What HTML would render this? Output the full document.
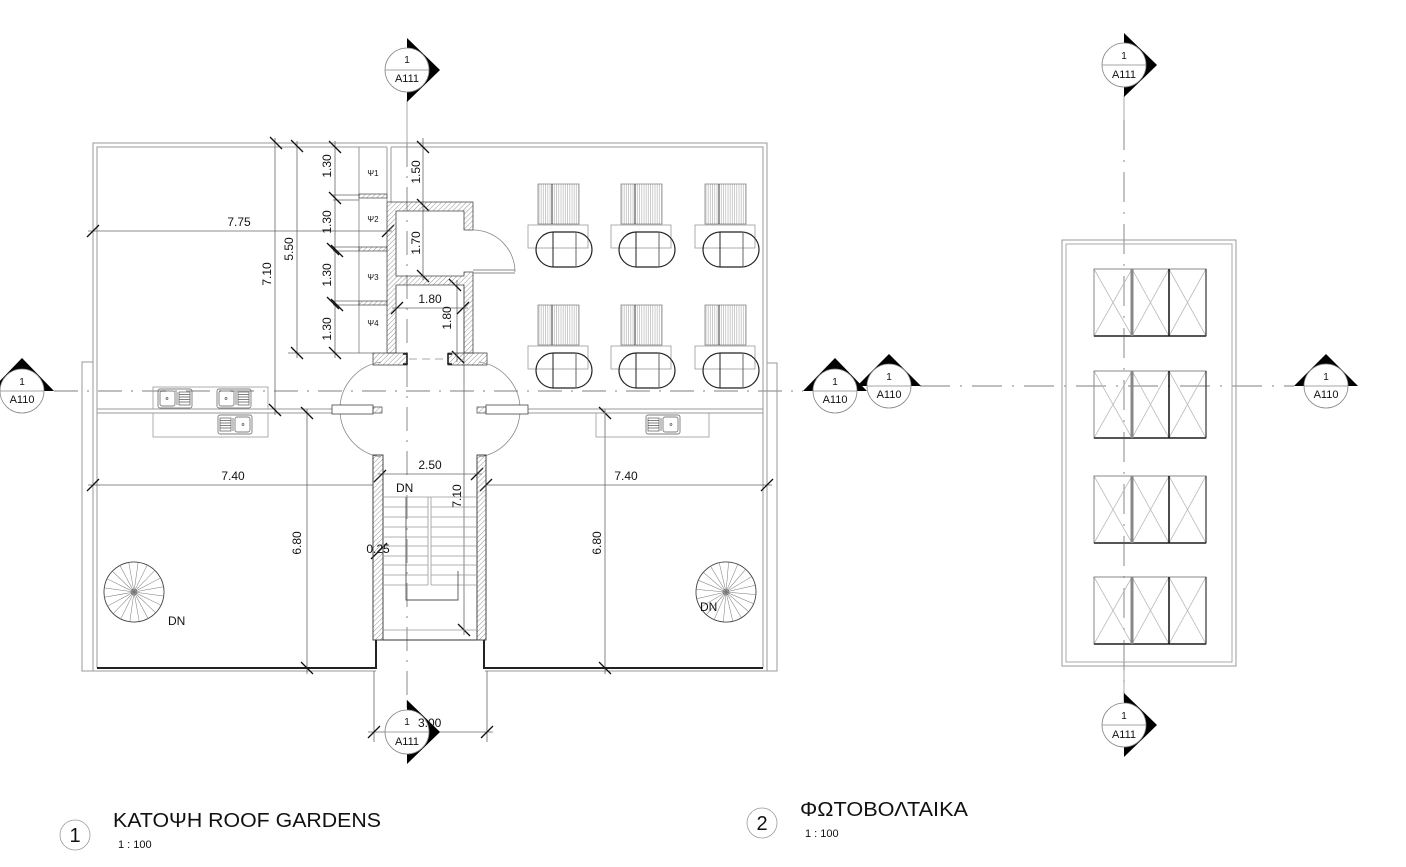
<!DOCTYPE html>
<html><head><meta charset="utf-8"><style>
html,body{margin:0;padding:0;background:#fff;}
svg{display:block;}
text{font-family:"Liberation Sans",Arial,sans-serif;fill:#111;}
</style></head><body>
<svg width="1406" height="867" viewBox="0 0 1406 867" xmlns="http://www.w3.org/2000/svg">
<defs>
<pattern id="h" width="3.5" height="3.5" patternUnits="userSpaceOnUse" patternTransform="rotate(45)"><line x1="0" y1="0" x2="0" y2="3.5" stroke="#666" stroke-width="0.7"/></pattern>
<pattern id="v" width="2.2" height="10" patternUnits="userSpaceOnUse"><line x1="1" y1="0" x2="1" y2="10" stroke="#aaa" stroke-width="0.6"/></pattern>
<g id="tu">
<rect x="0" y="0" width="41" height="40" fill="url(#v)" stroke="#888" stroke-width="0.8"/>
<line x1="14" y1="0" x2="14" y2="40" stroke="#333" stroke-width="1"/>
<rect x="-10" y="41" width="60" height="23" fill="none" stroke="#999" stroke-width="0.8"/>
<rect x="-2" y="48" width="56" height="35" rx="17.5" fill="none" stroke="#222" stroke-width="1.2"/>
<line x1="15" y1="48" x2="15" y2="83" stroke="#222" stroke-width="1"/>
<line x1="38" y1="48" x2="38" y2="83" stroke="#666" stroke-width="1"/>
</g>
<g id="sk" fill="none" stroke="#555" stroke-width="0.7">
<rect x="0" y="0" width="34" height="19" rx="2"/>
<rect x="2" y="2" width="15" height="15" rx="2"/>
<circle cx="9" cy="9.5" r="1"/>
<line x1="19" y1="3" x2="19" y2="16"/>
<rect x="21" y="3" width="11" height="13"/>
<path d="M21,5.5H32M21,8H32M21,10.5H32M21,13H32"/>
</g>
<g id="sp" fill="none" stroke="#777" stroke-width="0.5">
<circle r="30" stroke="#444" stroke-width="0.9"/>
<circle r="3" stroke="#444"/>
<path d="M-30,0L30,0M-28.5,-9.3L28.5,9.3M-24.3,-17.6L24.3,17.6M-17.6,-24.3L17.6,24.3M-9.3,-28.5L9.3,28.5M0,-30L0,30M9.3,-28.5L-9.3,28.5M17.6,-24.3L-17.6,24.3M24.3,-17.6L-24.3,17.6M28.5,-9.3L-28.5,9.3"/>
</g>
<g id="pv" fill="none">
<path d="M0,0L38,67M38,0L0,67M38,0L75,67M75,0L38,67M75,0L112,67M112,0L75,67" stroke="#bbb" stroke-width="0.8"/>
<rect x="0" y="0" width="112" height="67" stroke="#888" stroke-width="1"/>
<line x1="0" y1="67" x2="112" y2="67" stroke="#555" stroke-width="2"/>
<line x1="38" y1="0" x2="38" y2="67" stroke="#888" stroke-width="3"/>
<line x1="75" y1="0" x2="75" y2="67" stroke="#111" stroke-width="1.5"/>
<line x1="112" y1="0" x2="112" y2="67" stroke="#333" stroke-width="1.2"/>
</g>
</defs>

<!-- section / center lines -->
<g stroke="#aaa" stroke-width="1.4" fill="none">
<path d="M54,391H803" stroke-dasharray="24 9 2 9"/>
<path d="M920,386H1294" stroke-dasharray="30 10 2 10"/>
<path d="M407,143V700" stroke-dasharray="24 9 2 9"/>
<path d="M1124,120V700" stroke-dasharray="30 10 2 10"/>
</g>
<g stroke="#aaa" stroke-width="1">
<line x1="407" y1="100" x2="407" y2="143"/>
<line x1="1124" y1="95" x2="1124" y2="120"/>
<line x1="1124" y1="666" x2="1124" y2="702"/>
<line x1="407" y1="700" x2="407" y2="708"/>
</g>

<!-- building outline -->
<g fill="none" stroke="#999" stroke-width="1">
<path d="M93,671V143H767V668"/>
<path d="M97,668V147H387M391,147H763V668"/>
<line x1="387" y1="147" x2="387" y2="202"/>
<line x1="391" y1="147" x2="391" y2="202"/>
<rect x="82" y="362" width="11" height="309"/>
<rect x="767" y="363" width="10" height="308"/>
<line x1="82" y1="671" x2="376" y2="671"/>
<line x1="485" y1="671" x2="777" y2="671"/>
<path d="M97,409H332M97,413H332M528,409H763M528,413H763"/>
<line x1="359" y1="147" x2="359" y2="353"/>
</g>
<g fill="none" stroke="#222" stroke-width="2">
<path d="M97,668H376V640"/>
<path d="M484,640V668H763"/>
</g>

<!-- dimension lines -->
<g stroke="#666" stroke-width="0.8" fill="none">
<line x1="275" y1="138" x2="275" y2="415"/>
<line x1="297" y1="141" x2="297" y2="358"/>
<line x1="335" y1="141" x2="335" y2="358"/>
<line x1="288" y1="353" x2="373" y2="353"/>
<line x1="423" y1="138" x2="423" y2="280"/>
<line x1="457" y1="280" x2="457" y2="362"/>
<line x1="464" y1="285" x2="464" y2="635"/>
<line x1="88" y1="231" x2="392" y2="231"/>
<line x1="392" y1="308" x2="468" y2="308"/>
<line x1="378" y1="474" x2="482" y2="474"/>
<path d="M88,485H373M486,485H772"/>
<line x1="307" y1="409" x2="307" y2="674"/>
<line x1="605" y1="409" x2="605" y2="674"/>
<line x1="374" y1="671" x2="374" y2="742"/>
<line x1="487" y1="671" x2="487" y2="742"/>
<line x1="368" y1="732" x2="493" y2="732"/>
<path d="M333,195H359M333,200H359M333,247H359M333,251H359M333,301H359M333,305H359"/>
</g>

<!-- ticks -->
<g stroke="#111" stroke-width="1.3">
<path d="M270,137l12,12M291,140l12,12M329,141l12,12M417,141l12,12
M269,404l12,12M291,347l12,12M329,347l12,12M329,192l12,12M327,243l12,12M331,245l12,12M327,297l12,12M331,299l12,12
M417,199l12,12M417,270l12,12M449,279l12,12M452,351l12,12M458,624l12,12
M301,407l12,12M301,662l12,12M599,407l12,12M599,662l12,12"/>
<path d="M87,237l12,-12M382,237l12,-12M391,314l12,-12M457,314l12,-12
M374,482l12,-12M471,480l12,-12M87,491l12,-12M480,491l12,-12M761,491l12,-12
M371,559l12,-12M375,555l12,-12M368,738l12,-12M481,738l12,-12"/>
</g>

<!-- counters & sinks -->
<g fill="none" stroke="#999" stroke-width="0.8">
<rect x="153" y="387" width="115" height="22"/>
<rect x="153" y="413" width="115" height="24"/>
<rect x="596" y="413" width="113" height="24"/>
</g>
<use href="#sk" transform="translate(158,389)"/>
<use href="#sk" transform="translate(217,389)"/>
<use href="#sk" transform="translate(252,415) scale(-1,1)"/>
<use href="#sk" transform="translate(680,415) scale(-1,1)"/>

<!-- elevator / storage walls -->
<path d="M387,202H473V230H464V211H396V276H464V272H473V353H464V285H396V353H387Z" fill="url(#h)" stroke="#444" stroke-width="0.8"/>
<rect x="373" y="353" width="34" height="12" fill="url(#h)" stroke="#444" stroke-width="0.8"/>
<rect x="448" y="353" width="39" height="12" fill="url(#h)" stroke="#444" stroke-width="0.8"/>
<path d="M403,354H407V364H403M452,354H448V364H452" fill="none" stroke="#111" stroke-width="1.5"/>
<line x1="409" y1="359" x2="446" y2="359" stroke="#aaa" stroke-width="1" stroke-dasharray="8 5"/>
<rect x="359" y="194" width="28" height="4" fill="url(#h)" stroke="#444" stroke-width="0.7"/>
<rect x="359" y="247" width="28" height="4" fill="url(#h)" stroke="#444" stroke-width="0.7"/>
<rect x="359" y="301" width="28" height="4" fill="url(#h)" stroke="#444" stroke-width="0.7"/>
<path d="M515,272A42,42 0 0 0 473,230" fill="none" stroke="#888" stroke-width="0.8"/>
<path d="M473,270H515M473,273H515" fill="none" stroke="#888" stroke-width="0.9"/>

<!-- lobby door swings -->
<g fill="none" stroke="#888" stroke-width="0.8">
<path d="M381,362A48,48 0 0 0 381,457"/>
<path d="M479,362A48,48 0 0 1 479,457"/>
</g>
<rect x="332" y="405" width="41" height="9" fill="#fff" stroke="#444" stroke-width="0.8"/>
<rect x="373" y="407" width="9" height="6" fill="url(#h)" stroke="#444" stroke-width="0.7"/>
<rect x="486" y="405" width="42" height="9" fill="#fff" stroke="#444" stroke-width="0.8"/>
<rect x="477" y="407" width="9" height="6" fill="url(#h)" stroke="#444" stroke-width="0.7"/>

<!-- stair -->
<rect x="373" y="455" width="10" height="185" fill="url(#h)" stroke="#333" stroke-width="0.9"/>
<rect x="477" y="455" width="9" height="185" fill="url(#h)" stroke="#333" stroke-width="0.9"/>
<g stroke="#999" stroke-width="0.8" fill="none">
<path d="M383,497H477M383,507H428M383,517H428M383,527H428M383,537H428M383,546H428M383,556H428M383,565H428M383,575H428M383,585H428
M431,507H477M431,517H477M431,527H477M431,537H477M431,546H477M431,556H477M431,565H477M431,575H477M431,585H477"/>
<path d="M428,497V585M431,497V585"/>
<path d="M383,630H477"/>
</g>
<path d="M383,640H477" stroke="#333" stroke-width="1"/>
<path d="M406,497V600H458V571" fill="none" stroke="#555" stroke-width="0.9"/>

<!-- tables -->
<use href="#tu" x="538" y="184"/>
<use href="#tu" x="621" y="184"/>
<use href="#tu" x="705" y="184"/>
<use href="#tu" x="538" y="305"/>
<use href="#tu" x="621" y="305"/>
<use href="#tu" x="705" y="305"/>

<!-- spiral stairs -->
<use href="#sp" transform="translate(134,592) rotate(8)"/>
<use href="#sp" transform="translate(726,592) rotate(5)"/>

<!-- right panel -->
<rect x="1062" y="240" width="174" height="426" fill="none" stroke="#999" stroke-width="1"/>
<rect x="1066" y="244" width="166" height="418" fill="none" stroke="#aaa" stroke-width="1"/>
<use href="#pv" x="1094" y="269"/>
<use href="#pv" x="1094" y="371"/>
<use href="#pv" x="1094" y="476"/>
<use href="#pv" x="1094" y="577"/>

<!-- dimension texts -->
<g font-size="12">
<text x="239" y="226" text-anchor="middle">7.75</text>
<text transform="translate(271,274) rotate(-90)" text-anchor="middle">7.10</text>
<text transform="translate(293,249) rotate(-90)" text-anchor="middle">5.50</text>
<text transform="translate(331,166) rotate(-90)" text-anchor="middle">1.30</text>
<text transform="translate(331,222) rotate(-90)" text-anchor="middle">1.30</text>
<text transform="translate(331,275) rotate(-90)" text-anchor="middle">1.30</text>
<text transform="translate(331,329) rotate(-90)" text-anchor="middle">1.30</text>
<text transform="translate(420,172) rotate(-90)" text-anchor="middle">1.50</text>
<text transform="translate(420,243) rotate(-90)" text-anchor="middle">1.70</text>
<text transform="translate(451,318) rotate(-90)" text-anchor="middle">1.80</text>
<text x="430" y="303" text-anchor="middle">1.80</text>
<text x="430" y="469" text-anchor="middle">2.50</text>
<text transform="translate(461,496) rotate(-90)" text-anchor="middle">7.10</text>
<text x="378" y="553" text-anchor="middle">0.25</text>
<text x="233" y="480" text-anchor="middle">7.40</text>
<text x="626" y="480" text-anchor="middle">7.40</text>
<text transform="translate(301,543) rotate(-90)" text-anchor="middle">6.80</text>
<text transform="translate(601,543) rotate(-90)" text-anchor="middle">6.80</text>
<text x="396" y="492">DN</text>
<text x="168" y="625">DN</text>
<text x="700" y="611">DN</text>
</g>
<g font-size="8" text-anchor="middle">
<text x="373" y="176">Ψ1</text>
<text x="373" y="222">Ψ2</text>
<text x="373" y="280">Ψ3</text>
<text x="373" y="326">Ψ4</text>
</g>

<!-- section markers horizontal (apex up) -->
<g>
<polygon points="22,358 -10,391 54,391" fill="#000"/>
<circle cx="22" cy="391" r="22" fill="#fff" stroke="#888" stroke-width="0.8"/>
<line x1="0" y1="391" x2="44" y2="391" stroke="#888" stroke-width="0.8"/>
<text x="22" y="385" font-size="10" text-anchor="middle">1</text>
<text x="22" y="403" font-size="11" text-anchor="middle">A110</text>

<polygon points="835,358 803,391 867,391" fill="#000"/>
<circle cx="835" cy="391" r="22" fill="#fff" stroke="#888" stroke-width="0.8"/>
<line x1="813" y1="391" x2="857" y2="391" stroke="#888" stroke-width="0.8"/>
<text x="835" y="385" font-size="10" text-anchor="middle">1</text>
<text x="835" y="403" font-size="11" text-anchor="middle">A110</text>

<polygon points="889,354 857,386 921,386" fill="#000"/>
<circle cx="889" cy="386" r="22" fill="#fff" stroke="#888" stroke-width="0.8"/>
<line x1="867" y1="386" x2="911" y2="386" stroke="#888" stroke-width="0.8"/>
<text x="889" y="380" font-size="10" text-anchor="middle">1</text>
<text x="889" y="398" font-size="11" text-anchor="middle">A110</text>

<polygon points="1326,354 1294,386 1358,386" fill="#000"/>
<circle cx="1326" cy="386" r="22" fill="#fff" stroke="#888" stroke-width="0.8"/>
<line x1="1304" y1="386" x2="1348" y2="386" stroke="#888" stroke-width="0.8"/>
<text x="1326" y="380" font-size="10" text-anchor="middle">1</text>
<text x="1326" y="398" font-size="11" text-anchor="middle">A110</text>
</g>

<!-- section markers vertical (apex right) -->
<g>
<polygon points="407,38 440,70 407,102" fill="#000"/>
<circle cx="407" cy="70" r="22" fill="#fff" stroke="#888" stroke-width="0.8"/>
<line x1="385" y1="70" x2="429" y2="70" stroke="#888" stroke-width="0.8"/>
<text x="407" y="63" font-size="10" text-anchor="middle">1</text>
<text x="407" y="82" font-size="11" text-anchor="middle">A111</text>

<polygon points="407,700 440,732 407,764" fill="#000"/>
<circle cx="407" cy="732" r="22" fill="#fff" stroke="#888" stroke-width="0.8"/>
<line x1="385" y1="732" x2="429" y2="732" stroke="#888" stroke-width="0.8"/>
<text x="407" y="725" font-size="10" text-anchor="middle">1</text>
<text x="418" y="727" font-size="12">3.00</text>
<text x="407" y="745" font-size="11" text-anchor="middle">A111</text>

<polygon points="1124,33 1157,65 1124,97" fill="#000"/>
<circle cx="1124" cy="65" r="22" fill="#fff" stroke="#888" stroke-width="0.8"/>
<line x1="1102" y1="65" x2="1146" y2="65" stroke="#888" stroke-width="0.8"/>
<text x="1124" y="59" font-size="10" text-anchor="middle">1</text>
<text x="1124" y="78" font-size="11" text-anchor="middle">A111</text>

<polygon points="1124,693 1157,725 1124,757" fill="#000"/>
<circle cx="1124" cy="725" r="22" fill="#fff" stroke="#888" stroke-width="0.8"/>
<line x1="1102" y1="725" x2="1146" y2="725" stroke="#888" stroke-width="0.8"/>
<text x="1124" y="719" font-size="10" text-anchor="middle">1</text>
<text x="1124" y="738" font-size="11" text-anchor="middle">A111</text>
</g>

<!-- titles -->
<circle cx="75" cy="835" r="15" fill="none" stroke="#999" stroke-width="0.8"/>
<text x="75" y="842" font-size="20" text-anchor="middle">1</text>
<text x="113" y="827" font-size="20" textLength="268" lengthAdjust="spacingAndGlyphs">ΚΑΤΟΨΗ ROOF GARDENS</text>
<text x="118" y="848" font-size="11">1 : 100</text>

<circle cx="762" cy="823" r="15" fill="none" stroke="#999" stroke-width="0.8"/>
<text x="762" y="830" font-size="20" text-anchor="middle">2</text>
<text x="800" y="816" font-size="20" textLength="168" lengthAdjust="spacingAndGlyphs">ΦΩΤΟΒΟΛΤΑΙΚΑ</text>
<text x="805" y="837" font-size="11">1 : 100</text>
</svg>
</body></html>
